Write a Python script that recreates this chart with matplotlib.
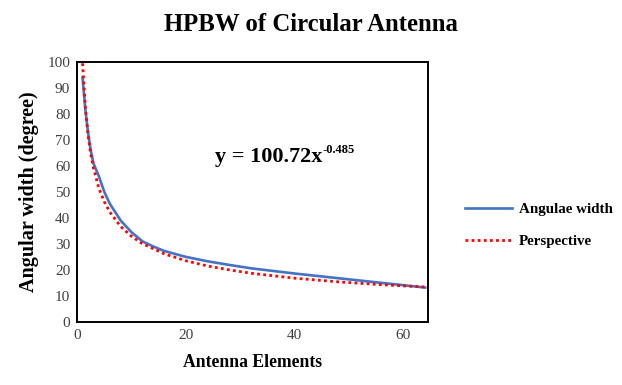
import matplotlib
matplotlib.use('Agg')
import matplotlib.pyplot as plt

# Dados
elements = [1, 1.5, 2, 2.5, 3, 4, 5, 6, 8, 10, 12, 14, 16, 20, 24, 28, 32, 40, 48, 56, 64]
angular_width = [94, 82, 73, 66, 61, 56, 50, 45.5, 39, 34.5, 31, 29, 27.3, 25, 23.3, 21.9, 20.6, 18.6, 16.8, 15, 13.2]

trend_x = [1, 1.5, 2, 2.5, 3, 4, 5, 6, 8, 10, 12, 16, 20, 24, 28, 32, 40, 48, 56, 64]
trend_y = [99.5, 82.8, 71.9, 64.6, 59.3, 51.4, 46.2, 42.3, 36.7, 32.9, 30.1, 26.2, 23.5, 21.5,
           20.0, 18.7, 16.8, 15.4, 14.3, 13.4]

x_ticks = [0, 20, 40, 60]
y_ticks = list(range(0, 101, 10))

serif = ['Liberation Serif', 'DejaVu Serif']
plt.rcParams['font.family'] = serif

fig = plt.figure(figsize=(6.22, 3.85), dpi=100)
ax = fig.add_axes([0.124, 0.164, 0.564, 0.675])

ax.plot(elements, angular_width, color='#4472C4', linewidth=1.9, label='Angulae width')
ax.plot(trend_x, trend_y, color='#FF0000', linewidth=2.0, linestyle=(0, (1, 1.2)),
        label='Perspective')

ax.set_xlim(0, 64.5)
ax.set_ylim(0, 100)
ax.set_xticks(x_ticks)
ax.set_yticks(y_ticks)
ax.tick_params(length=0, labelsize=11, colors='#404040', pad=5)
for s in ax.spines.values():
    s.set_linewidth(1.4)
    s.set_color('black')

ax.set_xlabel('Antenna Elements', fontsize=12.7, fontweight='bold', labelpad=9)
ax.set_ylabel('Angular width (degree)', fontsize=14.5, fontweight='bold', labelpad=6)

# Equação da linha de tendência
eq = ax.text(0.392, 0.635, 'y = 100.72x', transform=ax.transAxes,
             fontsize=16, fontweight='bold', ha='left', va='center')
ax.annotate('-0.485', xy=(1, 1), xycoords=eq, xytext=(0.5, 2), textcoords='offset points',
            fontsize=9, fontweight='bold', ha='left', va='top')

fig.suptitle('HPBW of Circular Antenna', fontsize=17.8, fontweight='bold', x=0.5, y=0.965)

fig.legend(loc='center left', bbox_to_anchor=(0.726, 0.415), frameon=False,
           prop={'family': serif, 'weight': 'bold', 'size': 10.8},
           handlelength=3.1, labelspacing=1.25, handletextpad=0.5)

plt.savefig('out.png', dpi=100)
